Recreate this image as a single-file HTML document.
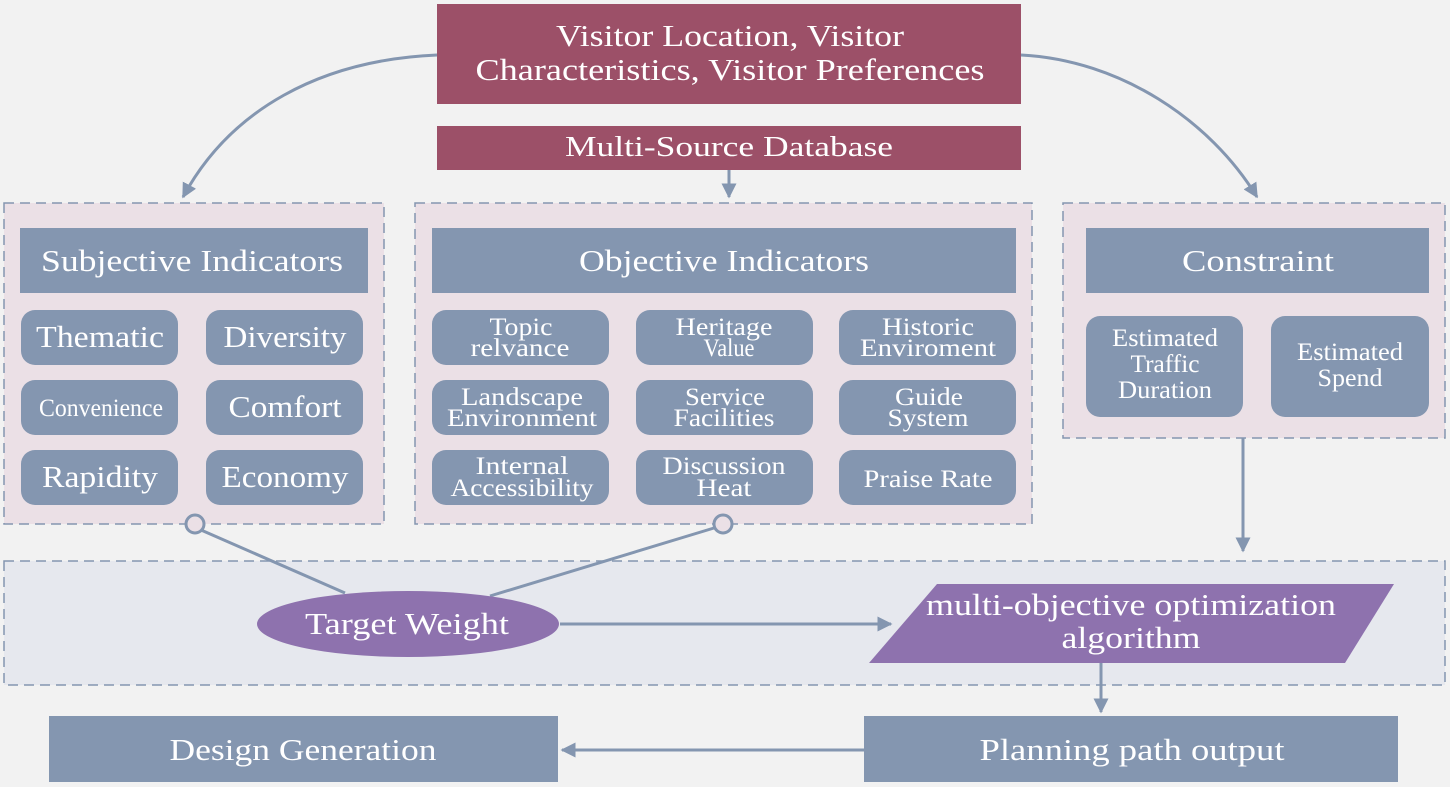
<!DOCTYPE html>
<html><head><meta charset="utf-8"><style>
html,body{margin:0;padding:0;background:#f2f2f2;}
svg{display:block;font-family:"Liberation Serif",serif;}
</style></head><body>
<svg width="1450" height="787" viewBox="0 0 1450 787" xmlns="http://www.w3.org/2000/svg">
<defs>
<marker id="ah" viewBox="0 0 10 10" refX="9" refY="5" markerWidth="5" markerHeight="5" orient="auto-start-reverse" markerUnits="strokeWidth"><path d="M0,0 L10,5 L0,10 z" fill="#8496b0"/></marker>
</defs>
<rect width="1450" height="787" fill="#f2f2f2"/>
<rect x="4" y="203" width="380" height="321" fill="#ebe0e6" stroke="#8496b0" stroke-width="1.5" stroke-dasharray="10,6"/>
<rect x="415" y="203" width="617" height="321" fill="#ebe0e6" stroke="#8496b0" stroke-width="1.5" stroke-dasharray="10,6"/>
<rect x="1063" y="203" width="382" height="235" fill="#ebe0e6" stroke="#8496b0" stroke-width="1.5" stroke-dasharray="10,6"/>
<rect x="4" y="561" width="1441" height="124" fill="#e6e8ee" stroke="#8496b0" stroke-width="1.5" stroke-dasharray="10,6"/>
<rect x="437" y="4" width="584" height="100" fill="#9c5068"/>
<g fill="#fff" text-anchor="middle" lengthAdjust="spacingAndGlyphs">
<text x="730" y="46" font-size="31" textLength="348" lengthAdjust="spacingAndGlyphs">Visitor Location, Visitor</text>
<text x="730" y="80" font-size="31" textLength="509" lengthAdjust="spacingAndGlyphs">Characteristics, Visitor Preferences</text>
</g>
<rect x="437" y="126" width="584" height="44" fill="#9c5068"/>
<text x="729" y="156" font-size="29" fill="#fff" text-anchor="middle" textLength="328" lengthAdjust="spacingAndGlyphs">Multi-Source Database</text>
<g stroke="#8496b0" stroke-width="3" fill="none">
<path d="M437,55 C320,60 230,110 183,197" marker-end="url(#ah)"/>
<path d="M729,170 L729,197" marker-end="url(#ah)"/>
<path d="M1021,55 C1120,60 1210,120 1257,197" marker-end="url(#ah)"/>
<path d="M1243,438 L1243,551" marker-end="url(#ah)"/>
<path d="M560,624 L891,624" marker-end="url(#ah)"/>
<path d="M1101,663 L1101,712" marker-end="url(#ah)"/>
<path d="M864,750 L562,750" marker-end="url(#ah)"/>
<path d="M201,530 L345,593"/>
<path d="M714,528 L490,596"/>
<circle cx="195" cy="524" r="9" fill="#ebe0e6"/>
<circle cx="723" cy="524" r="9" fill="#ebe0e6"/>
</g>
<g fill="#8496b0">
<rect x="20" y="228" width="348" height="65"/>
<rect x="432" y="228" width="584" height="65"/>
<rect x="1086" y="228" width="343" height="65"/>
</g>
<g font-size="31" fill="#fff" text-anchor="middle">
<text x="192" y="271" textLength="302" lengthAdjust="spacingAndGlyphs">Subjective Indicators</text>
<text x="724" y="271" textLength="290" lengthAdjust="spacingAndGlyphs">Objective Indicators</text>
<text x="1258" y="271" textLength="152" lengthAdjust="spacingAndGlyphs">Constraint</text>
</g>
<g fill="#8496b0">
<rect x="21" y="310" width="157" height="55" rx="14"/><rect x="206" y="310" width="157" height="55" rx="14"/>
<rect x="21" y="380" width="157" height="55" rx="14"/><rect x="206" y="380" width="157" height="55" rx="14"/>
<rect x="21" y="450" width="157" height="55" rx="14"/><rect x="206" y="450" width="157" height="55" rx="14"/>
</g>
<g font-size="31" fill="#fff" text-anchor="middle">
<text x="100" y="347" textLength="128" lengthAdjust="spacingAndGlyphs">Thematic</text>
<text x="285" y="347" textLength="123" lengthAdjust="spacingAndGlyphs">Diversity</text>
<text x="101" y="416" font-size="25" textLength="124" lengthAdjust="spacingAndGlyphs">Convenience</text>
<text x="285" y="417" textLength="113" lengthAdjust="spacingAndGlyphs">Comfort</text>
<text x="100" y="487" textLength="116" lengthAdjust="spacingAndGlyphs">Rapidity</text>
<text x="285" y="487" textLength="127" lengthAdjust="spacingAndGlyphs">Economy</text>
</g>
<g fill="#8496b0">
<rect x="432" y="310" width="177" height="55" rx="14"/><rect x="636" y="310" width="177" height="55" rx="14"/><rect x="839" y="310" width="177" height="55" rx="14"/>
<rect x="432" y="380" width="177" height="55" rx="14"/><rect x="636" y="380" width="177" height="55" rx="14"/><rect x="839" y="380" width="177" height="55" rx="14"/>
<rect x="432" y="450" width="177" height="55" rx="14"/><rect x="636" y="450" width="177" height="55" rx="14"/><rect x="839" y="450" width="177" height="55" rx="14"/>
</g>
<g font-size="25" fill="#fff" text-anchor="middle">
<text x="521" y="335" textLength="63" lengthAdjust="spacingAndGlyphs">Topic</text><text x="520" y="356" textLength="99" lengthAdjust="spacingAndGlyphs">relvance</text>
<text x="724" y="335" textLength="97" lengthAdjust="spacingAndGlyphs">Heritage</text><text x="729" y="356" textLength="51" lengthAdjust="spacingAndGlyphs">Value</text>
<text x="928" y="335" textLength="92" lengthAdjust="spacingAndGlyphs">Historic</text><text x="928" y="356" textLength="136" lengthAdjust="spacingAndGlyphs">Enviroment</text>
<text x="522" y="405" textLength="122" lengthAdjust="spacingAndGlyphs">Landscape</text><text x="522" y="426" textLength="150" lengthAdjust="spacingAndGlyphs">Environment</text>
<text x="725" y="405" textLength="80" lengthAdjust="spacingAndGlyphs">Service</text><text x="724" y="426" textLength="101" lengthAdjust="spacingAndGlyphs">Facilities</text>
<text x="929" y="405" textLength="68" lengthAdjust="spacingAndGlyphs">Guide</text><text x="928" y="426" textLength="81" lengthAdjust="spacingAndGlyphs">System</text>
<text x="522" y="474" textLength="93" lengthAdjust="spacingAndGlyphs">Internal</text><text x="522" y="496" textLength="143" lengthAdjust="spacingAndGlyphs">Accessibility</text>
<text x="724" y="474" textLength="123" lengthAdjust="spacingAndGlyphs">Discussion</text><text x="724" y="496" textLength="55" lengthAdjust="spacingAndGlyphs">Heat</text>
<text x="928" y="487" textLength="129" lengthAdjust="spacingAndGlyphs">Praise Rate</text>
</g>
<g fill="#8496b0">
<rect x="1086" y="316" width="157" height="101" rx="14"/><rect x="1271" y="316" width="158" height="101" rx="14"/>
</g>
<g font-size="25" fill="#fff" text-anchor="middle">
<text x="1165" y="346" textLength="106" lengthAdjust="spacingAndGlyphs">Estimated</text><text x="1165" y="372" textLength="69" lengthAdjust="spacingAndGlyphs">Traffic</text><text x="1165" y="398" textLength="94" lengthAdjust="spacingAndGlyphs">Duration</text>
<text x="1350" y="360" textLength="106" lengthAdjust="spacingAndGlyphs">Estimated</text><text x="1350" y="386" textLength="65" lengthAdjust="spacingAndGlyphs">Spend</text>
</g>
<ellipse cx="408" cy="624" rx="151" ry="33" fill="#8e72ae"/>
<text x="407" y="634" font-size="31" fill="#fff" text-anchor="middle" textLength="204" lengthAdjust="spacingAndGlyphs">Target Weight</text>
<polygon points="869,663 937,584 1394,584 1345,663" fill="#8e72ae"/>
<text x="1131" y="615" font-size="31" fill="#fff" text-anchor="middle" textLength="410" lengthAdjust="spacingAndGlyphs">multi-objective optimization</text>
<text x="1131" y="648" font-size="31" fill="#fff" text-anchor="middle" textLength="139" lengthAdjust="spacingAndGlyphs">algorithm</text>
<rect x="864" y="716" width="534" height="66" fill="#8496b0"/>
<text x="1132" y="760" font-size="31" fill="#fff" text-anchor="middle" textLength="305" lengthAdjust="spacingAndGlyphs">Planning path output</text>
<rect x="49" y="716" width="509" height="66" fill="#8496b0"/>
<text x="303" y="760" font-size="31" fill="#fff" text-anchor="middle" textLength="267" lengthAdjust="spacingAndGlyphs">Design Generation</text>
</svg>
</body></html>
